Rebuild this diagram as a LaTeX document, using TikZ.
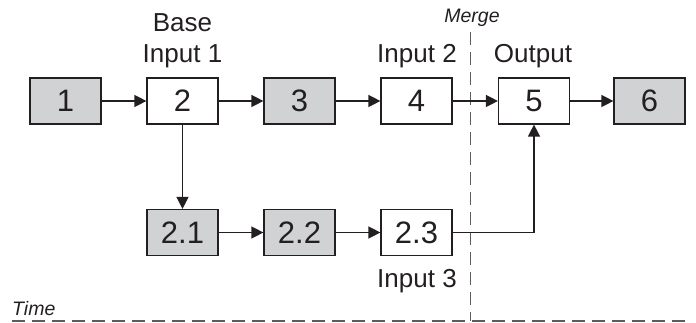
\documentclass[tikz,border=0pt]{standalone}
\usepackage{fontspec}
\setmainfont{Liberation Sans}
\usetikzlibrary{arrows.meta}
\definecolor{boxgray}{HTML}{D1D2D4}
\definecolor{dashgray}{HTML}{5C5C5C}
\definecolor{ink}{HTML}{231F20}
\tikzset{
  stepbox/.style={draw=ink, line width=1.2pt, minimum width=71pt, minimum height=46pt,
    inner sep=0pt, font=\fontsize{31}{31}\selectfont, text=ink},
  grayfill/.style={fill=boxgray},
  whitefill/.style={fill=white},
  lbl/.style={anchor=base, inner sep=0pt, font=\fontsize{26}{26}\selectfont, text=ink},
  ilbl/.style={inner sep=0pt, font=\fontsize{19.5}{19.5}\selectfont\itshape, text=ink},
  conn/.style={draw=ink, line width=1.4pt, -{Triangle[length=12pt,width=12pt]}},
  timeline/.style={draw=dashgray, line width=1.8pt, dash pattern=on 13pt off 7pt},
}
\begin{document}
\begin{tikzpicture}[x=1pt,y=-1pt]
\useasboundingbox (0,0) rectangle (696,323);
% dashed guides
\coordinate (mtop) at (470.5,32);
\coordinate (mbot) at (470.5,321);
\coordinate (tl) at (12,321);
\coordinate (tr) at (690,321);
\draw[timeline] (mtop) -- (mbot);
\draw[timeline] (tl) -- (tr);
\node[ilbl, anchor=base] (merge) at (472,23) {Merge};
\node[ilbl, anchor=base west] (time) at (12,315) {Time};
% boxes
\node[stepbox, grayfill]  (b1) at (65.5,101) {1};
\node[stepbox, whitefill] (b2) at (182.5,101) {2};
\node[stepbox, grayfill]  (b3) at (299.5,101) {3};
\node[stepbox, whitefill] (b4) at (416.5,101) {4};
\node[stepbox, whitefill] (b5) at (534,101) {5};
\node[stepbox, grayfill]  (b6) at (649.5,101) {6};
\node[stepbox, grayfill]  (b21) at (182.5,232.5) {2.1};
\node[stepbox, grayfill]  (b22) at (299.5,232.5) {2.2};
\node[stepbox, whitefill] (b23) at (416.5,232.5) {2.3};
% labels
\node[lbl] (lbase) at (182.5,32) {Base};
\node[lbl] (lin1) at (182.5,63) {Input 1};
\node[lbl] (lin2) at (417,63) {Input 2};
\node[lbl] (lout) at (533,63) {Output};
\node[lbl] (lin3) at (417,287) {Input 3};
% connectors
\draw[conn] (b1) -- (b2);
\draw[conn] (b2) -- (b3);
\draw[conn] (b3) -- (b4);
\draw[conn] (b4) -- (b5);
\draw[conn] (b5) -- (b6);
\draw[conn] (b2) -- (b21);
\draw[conn] (b21) -- (b22);
\draw[conn] (b22) -- (b23);
\draw[conn] (b23.east) -| (b5.south);
\end{tikzpicture}
\end{document}
